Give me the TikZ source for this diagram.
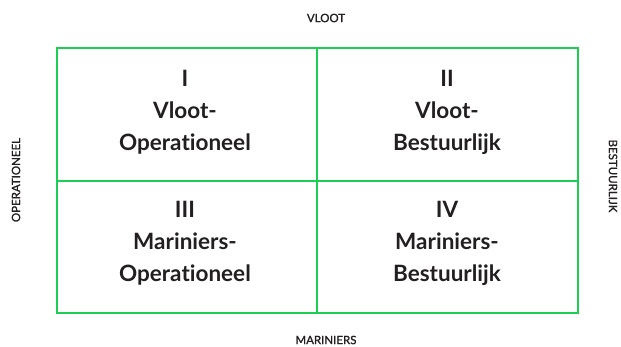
\documentclass[tikz,border=0pt]{standalone}
\usepackage{fontspec}
\setmainfont{Lato}[Ligatures={NoCommon,NoRare}]
\newfontfamily\randletter{Lato}[FakeBold=1.3]
\definecolor{raster}{RGB}{28,206,82}
\definecolor{tekst}{RGB}{35,31,32}
\begin{document}
\begin{tikzpicture}[x=1pt,y=-1pt,line width=2.8pt,
  vak/.style={align=center,font=\fontsize{22.5}{32}\selectfont\bfseries,text=tekst},
  as/.style={font=\randletter\fontsize{11.5}{13}\selectfont,text=tekst}]
\useasboundingbox (0,0) rectangle (621,346);
\draw[raster] (57,48) rectangle (578,313);
\draw[raster] (317,48)--(317,313) (57,181)--(578,181);
\foreach \N/\X/\Y/\T in {een/185/112/{I\\Vloot-\\Operationeel},twee/447/112/{II\\Vloot-\\Bestuurlijk},
  drie/185/243/{III\\Mariniers-\\Operationeel},vier/447/243/{IV\\Mariniers-\\Bestuurlijk}}{
\node[vak] (\N) at (\X,\Y) {\T};}
\node[as] (vloot) at (326,18) {VLOOT};
\node[as] (mariniers) at (326,340) {MARINIERS};
\node[as,rotate=90] (oper) at (16,180) {OPERATIONEEL};
\node[as,rotate=-90] (best) at (613,176) {BESTUURLIJK};
\end{tikzpicture}
\end{document}
